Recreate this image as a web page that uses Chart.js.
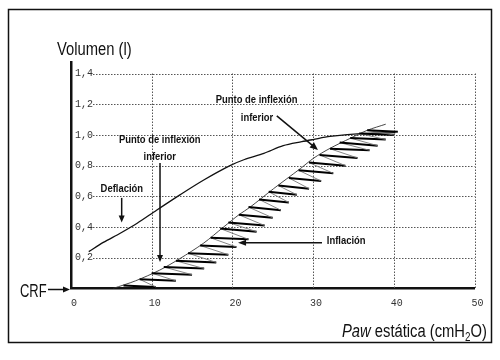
<!DOCTYPE html>
<html lang="es">
<head>
<meta charset="UTF-8">
<title>Curva presión-volumen</title>
<script src="https://cdn.jsdelivr.net/npm/chart.js"></script>
<style>
    body { margin: 0; background: #fff; }
    #wrap { width: 500px; height: 360px; }
</style>
</head>
<body>
<div id="wrap"><canvas id="pvChart" width="500" height="360"></canvas></div>
<script>
    // tick labels
    const xTickLabels = ['0', '10', '20', '30', '40', '50'];
    const yTickLabels = ['', '0,2', '0,4', '0,6', '0,8', '1,0', '1,2', '1,4'];

    // deflation limb (upper curve)
    const defX = [2.2, 4.0, 6.1, 8.2, 10.6, 13.5, 16.4, 19.7, 21.5, 23.9, 26.3, 28.6, 30.0, 32.1, 36.3, 40.2];
    const defY = [0.24, 0.30, 0.36, 0.425, 0.51, 0.61, 0.705, 0.80, 0.84, 0.88, 0.93, 0.956, 0.97, 0.99, 1.01, 1.015];

    // inflation limb (lower S curve)
    const infX = [5.2, 8.0, 11.0, 13.5, 16.4, 18.9, 20.8, 22.2, 25.1, 28.4, 30.1, 32.1, 34.6, 36.7, 39.0];
    const infY = [0.0, 0.05, 0.12, 0.195, 0.294, 0.40, 0.48, 0.53, 0.65, 0.78, 0.85, 0.913, 0.978, 1.03, 1.07];

    // step-by-step inflation recording (zig-zag between the curve and its right edge)
    const hatchX = [6.5, 10.5, 8.5, 13.0, 10.0, 15.0, 11.5, 16.5, 13.0, 18.0, 14.5, 19.5, 16.0, 20.5, 17.3, 22.0,
        18.5, 23.0, 19.5, 24.0, 20.8, 25.0, 22.0, 26.0, 23.3, 27.0, 24.5, 28.0, 25.7, 29.5, 27.0, 31.0,
        28.2, 32.5, 29.5, 34.0, 30.8, 35.5, 32.1, 37.0, 33.3, 38.0, 34.6, 39.0, 35.7, 40.0, 36.7, 40.5];
    const hatchY = [0.02, 0.01, 0.06, 0.05, 0.10, 0.09, 0.14, 0.13, 0.18, 0.17, 0.23, 0.22, 0.28, 0.27, 0.33, 0.32,
        0.39, 0.37, 0.43, 0.41, 0.48, 0.46, 0.53, 0.51, 0.58, 0.56, 0.63, 0.61, 0.67, 0.65, 0.72, 0.70,
        0.77, 0.75, 0.82, 0.80, 0.87, 0.85, 0.91, 0.90, 0.95, 0.93, 0.98, 0.97, 1.01, 1.00, 1.03, 1.02];

    const toPts = (xs, ys) => xs.map((x, i) => ({ x: x, y: ys[i] }));

    const sans = '"Liberation Sans", Arial, sans-serif';
    const mono = '"Liberation Mono", "DejaVu Sans Mono", monospace';

    // no narrow face installed, so condense by hand
    function narrowText(ctx, text, x, y, align, squeeze) {
        const k = squeeze || 0.82;
        ctx.save();
        ctx.translate(x, y);
        ctx.scale(k, 1);
        ctx.textAlign = align || 'left';
        ctx.fillText(text, 0, 0);
        ctx.restore();
        return ctx.measureText(text).width * k;
    }

    function arrow(ctx, x1, y1, x2, y2, len, half) {
        const a = Math.atan2(y2 - y1, x2 - x1);
        ctx.beginPath();
        ctx.moveTo(x1, y1);
        ctx.lineTo(x2 - Math.cos(a) * len * 0.8, y2 - Math.sin(a) * len * 0.8);
        ctx.stroke();
        ctx.beginPath();
        ctx.moveTo(x2, y2);
        ctx.lineTo(x2 - Math.cos(a) * len - Math.sin(a) * half, y2 - Math.sin(a) * len + Math.cos(a) * half);
        ctx.lineTo(x2 - Math.cos(a) * len + Math.sin(a) * half, y2 - Math.sin(a) * len - Math.cos(a) * half);
        ctx.closePath();
        ctx.fill();
    }

    // dotted grid, drawn between the labels and the plot edge
    const gridPlugin = {
        id: 'dottedGrid',
        beforeDatasetsDraw(chart) {
            const { ctx, chartArea, scales: { x, y } } = chart;
            ctx.save();
            ctx.strokeStyle = '#555';
            ctx.lineWidth = 1;
            ctx.setLineDash([1.5, 1.5]);
            y.ticks.forEach(t => {
                if (t.value === 0) return;
                const py = Math.round(y.getPixelForValue(t.value)) + 0.5;
                ctx.beginPath();
                ctx.moveTo(chartArea.left + 22, py);
                ctx.lineTo(x.getPixelForValue(50), py);
                ctx.stroke();
            });
            x.ticks.forEach(t => {
                if (t.value === 0) return;
                const px = Math.round(x.getPixelForValue(t.value)) + 0.5;
                ctx.beginPath();
                ctx.moveTo(px, y.getPixelForValue(1.4));
                ctx.lineTo(px, y.getPixelForValue(0));
                ctx.stroke();
            });
            ctx.restore();
        }
    };

    const notesPlugin = {
        id: 'notes',
        afterDraw(chart) {
            const { ctx, scales: { x, y } } = chart;
            const X = v => x.getPixelForValue(v);
            const Y = v => y.getPixelForValue(v);
            ctx.save();
            ctx.fillStyle = '#111';
            ctx.strokeStyle = '#111';

            // outer frame
            ctx.lineWidth = 1.5;
            ctx.strokeRect(8.5, 9.5, 483, 333);

            // axis titles
            ctx.textBaseline = 'alphabetic';
            ctx.font = '18px ' + sans;
            narrowText(ctx, 'Volumen (l)', 57, 55);

            let tx = 342;
            const base = 337;
            ctx.font = 'italic 18px ' + sans;
            tx += narrowText(ctx, 'Paw', tx, base);
            ctx.font = '18px ' + sans;
            tx += narrowText(ctx, ' estática (cmH', tx, base);
            ctx.font = '12px ' + sans;
            tx += narrowText(ctx, '2', tx, base + 4);
            ctx.font = '18px ' + sans;
            narrowText(ctx, 'O)', tx, base);

            narrowText(ctx, 'CRF', 20, 297, 'left', 0.72);
            ctx.lineWidth = 1.5;
            arrow(ctx, 48, 289.5, X(0) - 1, 289.5, 7, 3);

            // annotations
            ctx.font = 'bold 11.5px ' + sans;
            ctx.textBaseline = 'middle';
            narrowText(ctx, 'Deflación', X(6.3), Y(0.648), 'center');
            narrowText(ctx, 'Punto de inflexión', X(11.0), Y(0.967), 'center');
            narrowText(ctx, 'inferior', X(11.0), Y(0.857), 'center');
            narrowText(ctx, 'Punto de inflexión', X(23.0), Y(1.228), 'center');
            narrowText(ctx, 'inferior', X(23.05), Y(1.111), 'center');
            narrowText(ctx, 'Inflación', X(31.7), Y(0.309), 'left');

            ctx.lineWidth = 1.5;
            arrow(ctx, X(6.28), Y(0.59), X(6.28), Y(0.429), 7, 3);
            arrow(ctx, X(11.03), Y(0.818), X(11.03), Y(0.173), 7, 3);
            arrow(ctx, X(25.5), Y(1.124), X(30.6), Y(0.902), 8, 3.5);
            arrow(ctx, X(31.1), Y(0.298), X(20.7), Y(0.298), 8, 3);
            ctx.restore();
        }
    };

    new Chart(document.getElementById('pvChart').getContext('2d'), {
        type: 'scatter',
        data: {
            datasets: [
                {
                    label: 'Inflación (registro)',
                    data: toPts(hatchX, hatchY),
                    showLine: true,
                    pointRadius: 0,
                    borderWidth: 1,
                    tension: 0,
                    segment: {
                        borderColor: c => c.p0DataIndex % 2 === 0 ? '#000' : '#777',
                        borderWidth: c => c.p0DataIndex % 2 === 0 ? 2 : 0.9
                    }
                },
                {
                    label: 'Inflación',
                    data: toPts(infX, infY),
                    showLine: true,
                    pointRadius: 0,
                    borderColor: '#333',
                    borderWidth: 0.9,
                    tension: 0.3
                },
                {
                    label: 'Deflación',
                    data: toPts(defX, defY),
                    showLine: true,
                    pointRadius: 0,
                    borderColor: '#111',
                    borderWidth: 1.3,
                    tension: 0.3
                }
            ]
        },
        options: {
            responsive: false,
            animation: false,
            layout: { padding: { left: 71, top: 62, right: 25.5, bottom: 41.5 } },
            plugins: { legend: { display: false }, tooltip: { enabled: false } },
            scales: {
                x: {
                    type: 'linear',
                    min: 0,
                    max: 50,
                    afterFit: s => { s.height = 30; },
                    grid: { display: false, drawTicks: false },
                    border: { display: true, color: '#111', width: 2.5 },
                    ticks: {
                        stepSize: 10,
                        padding: 9,
                        labelOffset: 3,
                        maxRotation: 0,
                        autoSkip: false,
                        color: '#333',
                        font: { family: mono, size: 10 },
                        callback: (v, i) => xTickLabels[i]
                    }
                },
                y: {
                    type: 'linear',
                    min: 0,
                    max: 1.475,
                    afterFit: s => { s.width = 0; },
                    grid: { display: false, drawTicks: false },
                    border: { display: true, color: '#111', width: 2.5 },
                    ticks: {
                        stepSize: 0.2,
                        includeBounds: false,
                        mirror: true,
                        padding: 4,
                        color: '#333',
                        font: { family: mono, size: 10 },
                        callback: (v, i) => yTickLabels[i]
                    }
                }
            }
        },
        plugins: [gridPlugin, notesPlugin]
    });
</script>
</body>
</html>
